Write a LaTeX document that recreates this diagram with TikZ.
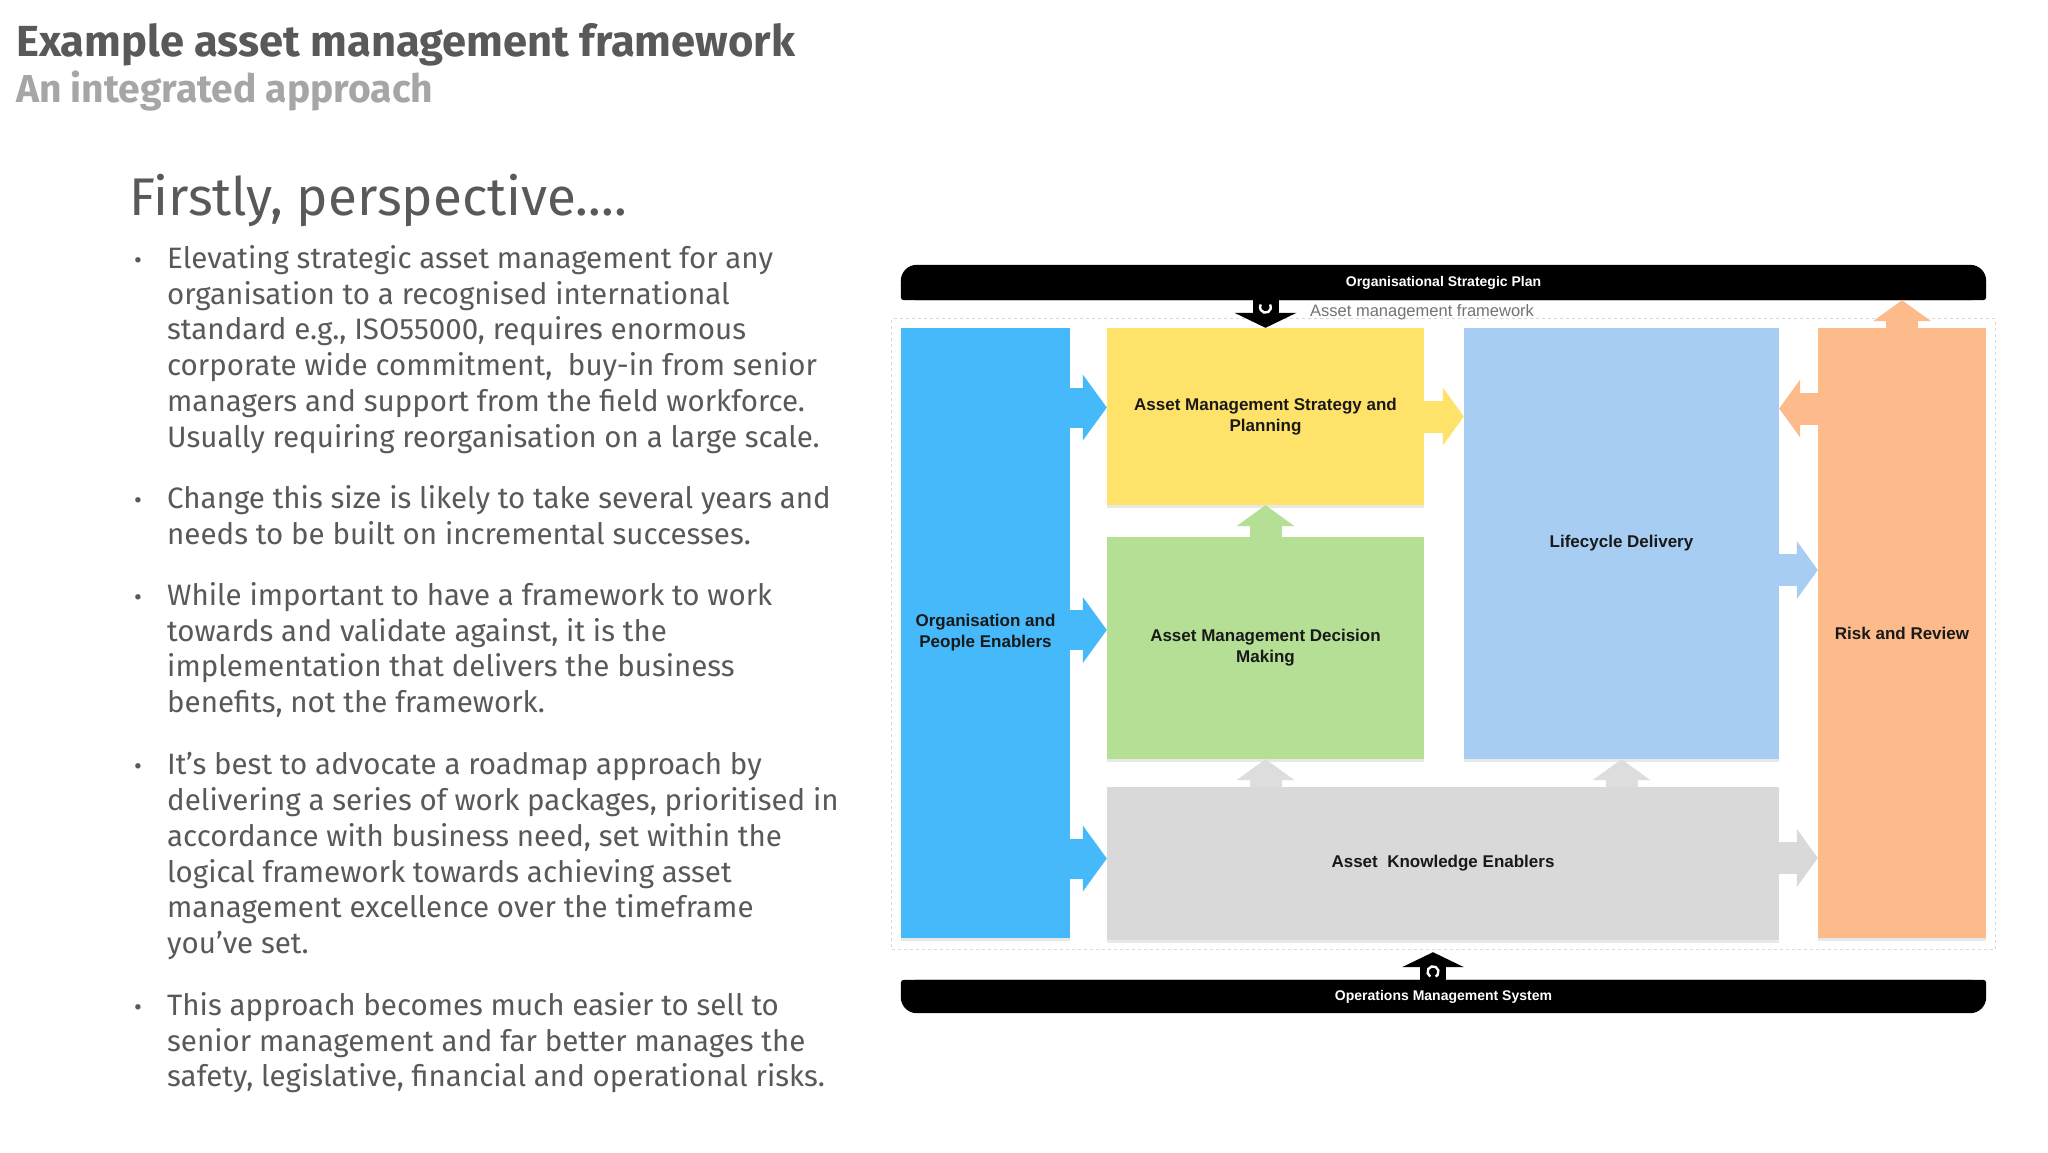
\documentclass[tikz,border=0pt]{standalone}
\usepackage{fontspec}
\setmainfont{Fira Sans}
\newfontfamily\arialfont{Liberation Sans}
\usetikzlibrary{positioning,arrows.meta,fit,backgrounds,shadows,calc}

\begin{document}
\begin{tikzpicture}[x=1pt,y=-1pt,
 head/.style={anchor=base west,inner sep=0pt,text=titlegray},
 para/.style={anchor=north west,align=left,inner sep=0pt,text=titlegray,font=\fontsize{29.5}{35.8}\selectfont},
 bul/.style={anchor=base west,inner sep=0pt,text=titlegray,font=\fontsize{24}{28}\selectfont},
 blk/.style={inner sep=2pt,align=center,text=black!90,font=\arialfont\bfseries\fontsize{17}{21}\selectfont,
  drop shadow={shadow xshift=0pt,shadow yshift=-3pt,opacity=.18}},
 bar/.style={inner sep=0pt,minimum width=1085pt,text=white,font=\arialfont\bfseries\fontsize{14}{16}\selectfont},
 fat/.style={line width=40pt,-{Triangle[length=24pt,width=66pt,line width=0pt]}},
 mid/.style={line width=32pt,-{Triangle[length=21pt,width=58pt,line width=0pt]}},
 dark/.style={line width=26pt,draw=black,-{Triangle[length=15pt,width=62pt,line width=0pt]}},
 spin/.style={white,line width=2.4pt}]
\definecolor{titlegray}{HTML}{595959}
\definecolor{subgray}{HTML}{A6A6A6}
\definecolor{orgblue}{HTML}{45B9FA}
\definecolor{amsyellow}{HTML}{FFE26A}
\definecolor{amdgreen}{HTML}{B4DF95}
\definecolor{lcdblue}{HTML}{A8CDF2}
\definecolor{akegray}{HTML}{D9D9D9}
\definecolor{rrorange}{HTML}{FDBA8B}
\useasboundingbox (0,0) rectangle (2048,1152);
% slide text
\node[head,font=\bfseries\fontsize{43.5}{50}\selectfont] (title) at (16,56) {Example asset management framework};
\node[head,text=subgray,font=\bfseries\fontsize{39}{45}\selectfont] (sub) at (16,102) {An integrated approach};
\node[head,font=\fontsize{53}{60}\selectfont] (persp) at (129,215) {Firstly, perspective....};
% paragraph tops sit one strut (0.7 x 35.8) above the first baseline
\node[para] (p1) at (167,243) {\strut Elevating strategic asset management for any\\organisation to a recognised international\\standard e.g., ISO55000, requires enormous\\corporate wide commitment,~ buy-in from senior\\managers and support from the field workforce.\\Usually requiring reorganisation on a large scale.};
\node[para] (p2) at (167,483.5) {\strut Change this size is likely to take several years and\\needs to be built on incremental successes.};
\node[para] (p3) at (167,580) {\strut While important to have a framework to work\\towards and validate against, it is the\\implementation that delivers the business\\benefits, not the framework.};
\node[para] (p4) at (167,749.5) {\strut It’s best to advocate a roadmap approach by\\delivering a series of work packages, prioritised in\\accordance with business need, set within the\\logical framework towards achieving asset\\management excellence over the timeframe\\you’ve set.};
\node[para] (p5) at (167,990) {\strut This approach becomes much easier to sell to\\senior management and far better manages the\\safety, legislative, financial and operational risks.};
\foreach \i in {1,...,5}
 \node[bul] (b\i) at ([xshift=-33pt,yshift=-25.06pt]p\i.north west) {•};
% framework blocks
\node[blk,fill=orgblue,minimum width=169pt,minimum height=610pt] (org) at (985.5,633) {Organisation and\\People Enablers};
\node[blk,fill=amsyellow,minimum width=317pt,minimum height=177pt] (amsp) at (1265.5,416.5) {Asset Management Strategy and\\Planning};
\node[blk,fill=amdgreen,minimum width=317pt,minimum height=222pt] (amdm) at (1265.5,648) {Asset Management Decision\\Making};
\node[blk,fill=lcdblue,minimum width=315pt,minimum height=431pt] (lcd) at (1621.5,543.5) {Lifecycle Delivery};
\node[blk,fill=akegray,minimum width=672pt,minimum height=153pt] (ake) at (1443,863.5) {Asset~~Knowledge Enablers};
\node[blk,fill=rrorange,minimum width=168pt,minimum height=610pt] (rr) at (1902,633) {Risk and Review};
\node[draw=black!15,dashed,line width=.8pt,inner sep=9pt,fit=(org)(rr)(ake)(amsp)] (frame) {};
\node[bar,minimum height=35pt] (osp) at (1443.5,282.5) {Organisational Strategic Plan};
\node[bar,minimum height=33pt] (oms) at (1443.5,996.5) {Operations Management System};
\node[anchor=west,inner sep=0pt,text=black!55,font=\arialfont\fontsize{16.5}{19}\selectfont] (amf) at (1310,312) {Asset management framework};
\begin{scope}[on background layer]
\fill[white] (0,0) rectangle (2048,1152);
\fill[black,rounded corners=16pt] (osp.south west) rectangle (osp.north east);
\fill[black,rounded corners=3pt] (osp.west) rectangle (osp.south east);
\fill[black,rounded corners=16pt] (oms.north west) rectangle (oms.south east);
\fill[black,rounded corners=3pt] (oms.north west) rectangle (oms.east);
\end{scope}
% connectors
\draw[fat,draw=orgblue] ($(org.east |- amsp.west)+(0,-9)$) -- ($(amsp.west)+(0,-9)$);
\draw[fat,draw=orgblue] ($(org.east |- amdm.west)+(0,-18)$) -- ($(amdm.west)+(0,-18)$);
\draw[fat,draw=orgblue] ($(org.east |- ake.west)+(0,-5)$) -- ($(ake.west)+(0,-5)$);
\draw[mid,draw=amsyellow] (amsp.east) -- (amsp.east -| lcd.west);
\draw[mid,draw=rrorange] ($(rr.west |- amsp.east)+(0,-8)$) -- ($(lcd.east |- amsp.east)+(0,-8)$);
\draw[mid,draw=lcdblue] ($(lcd.east)+(0,26.5)$) -- ($(rr.west |- lcd.east)+(0,26.5)$);
\draw[mid,draw=akegray] ($(ake.east)+(0,-5.5)$) -- ($(rr.west |- ake.east)+(0,-5.5)$);
\draw[mid,draw=amdgreen] (amdm.north) -- (amsp.south);
\draw[mid,draw=akegray!90] (ake.north -| amdm.south) -- (amdm.south);
\draw[mid,draw=akegray!90] (ake.north -| lcd.south) -- (lcd.south);
\draw[mid,draw=rrorange] (rr.north) -- (rr.north |- osp.south);
\draw[dark] (osp.south -| amsp.north) -- (amsp.north);
\draw[dark,shorten >=12pt] ($(oms.north -| ake.south)+(-10,0)$) -- ($(ake.south)+(-10,0)$);
\draw[spin] ($(osp.south -| amsp.north)+(0,7)$) ++(-30:5.5) arc[start angle=-30,end angle=210,radius=5.5];
\draw[spin] ($(oms.north -| ake.south)+(-10,-8)$) ++(120:5.5) arc[start angle=120,end angle=420,radius=5.5];
\end{tikzpicture}
\end{document}
